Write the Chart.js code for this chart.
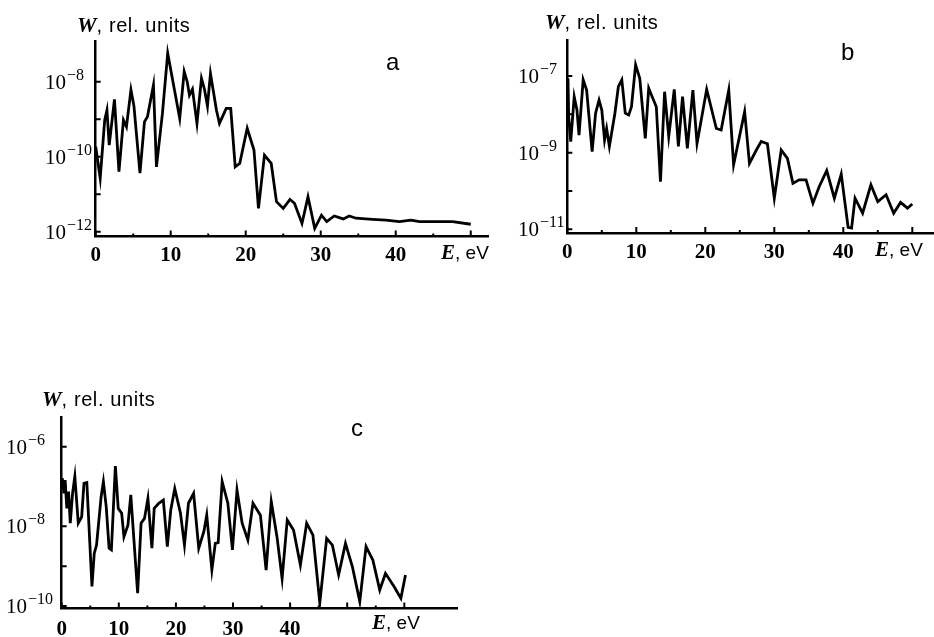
<!DOCTYPE html>
<html lang="en">
<head>
<meta charset="UTF-8">
<title>W, rel. units vs E, eV</title>
<script src="https://cdn.jsdelivr.net/npm/chart.js@4"></script>
<style>
  body { margin: 0; background: #fff; }
  #page { position: relative; width: 934px; height: 637px; overflow: hidden; background: #fff; }
  .panel { position: absolute; }
  .panel canvas { display: block; }
  .lbl {
    position: absolute;
    white-space: nowrap;
    line-height: 1;
    color: #000;
    font-family: "Liberation Sans", Arial, sans-serif;
    font-size: 19px;
  }
  .lbl i { font-family: "Liberation Serif", "Times New Roman", serif; font-weight: bold; font-size: 21px; }
  .ytitle { font-size: 20px; letter-spacing: 0.6px; }
  .ytitle i { font-size: 22px; letter-spacing: 0; }
  .letter { font-size: 24px; }
</style>
</head>
<body>
<div id="page">
  <div class="panel" style="left:0;top:0"><canvas id="chartA" width="495" height="270"></canvas></div>
  <div class="panel" style="left:480px;top:0"><canvas id="chartB" width="454" height="270"></canvas></div>
  <div class="panel" style="left:0;top:380px"><canvas id="chartC" width="470" height="257"></canvas></div>

  <div class="lbl ytitle" style="left:77px;top:14px"><i>W</i>, rel. units</div>
  <div class="lbl" style="left:441px;top:242px"><i>E</i>, eV</div>
  <div class="lbl letter" style="left:386px;top:50px">a</div>

  <div class="lbl ytitle" style="left:545px;top:11px"><i>W</i>, rel. units</div>
  <div class="lbl" style="left:875px;top:239px"><i>E</i>, eV</div>
  <div class="lbl letter" style="left:841px;top:40px">b</div>

  <div class="lbl ytitle" style="left:42px;top:388px"><i>W</i>, rel. units</div>
  <div class="lbl" style="left:372px;top:612px"><i>E</i>, eV</div>
  <div class="lbl letter" style="left:351px;top:416px">c</div>
</div>

<script>
// panel a
const energyA = [0, 0.6, 1.2, 1.5, 1.8, 2.5, 3.1, 3.7, 4.1, 4.7, 5.1, 5.9, 6.5, 6.9, 7.7,
  8.1, 8.9, 9.6, 11.2, 11.8, 12.2, 12.5, 12.9, 13.5, 14.1, 14.5, 14.9, 15.3, 16.1, 16.5,
  17.4, 18.0, 18.6, 19.2, 20.2, 21.1, 21.7, 22.5, 23.4, 24.1, 25.0, 25.9, 26.5, 27.5, 28.3,
  29.2, 30.1, 30.8, 31.8, 33.0, 33.8, 34.7, 36.9, 38.7, 40.5, 42.0, 43.2, 47.6, 50.0];
const wA = [1.86e-10, 2.63e-11, 9.55e-10, 1.74e-9, 2.04e-10, 3.39e-9, 3.98e-11, 9.55e-10, 6.31e-10, 6.03e-9,
  2.24e-9, 3.63e-11, 8.51e-10, 1.17e-9, 8.13e-9, 5.37e-11, 1.45e-9, 5.75e-8, 1.05e-9, 1.86e-8,
  1.0e-8, 4.37e-9, 6.31e-9, 7.76e-10, 1.23e-8, 6.31e-9, 2.24e-9, 1.66e-8, 1.74e-9, 7.76e-10,
  1.95e-9, 1.95e-9, 5.37e-11, 6.61e-11, 5.75e-10, 1.51e-10, 4.17e-12, 1.10e-10, 6.61e-11, 6.31e-12,
  4.17e-12, 7.24e-12, 5.75e-12, 1.66e-12, 8.51e-12, 1.23e-12, 2.75e-12, 1.86e-12, 2.63e-12, 2.19e-12,
  2.63e-12, 2.29e-12, 2.14e-12, 2.04e-12, 1.86e-12, 2.04e-12, 1.86e-12, 1.86e-12, 1.58e-12];

// panel b
const energyB = [0.1, 0.2, 0.5, 1.0, 1.4, 1.7, 2.3, 2.8, 3.6, 4.1, 4.6, 5.0, 5.4, 5.7, 6.1,
  6.9, 7.4, 7.9, 8.4, 8.9, 9.3, 9.9, 10.5, 11.3, 11.8, 12.3, 12.9, 13.5, 14.1, 14.7,
  15.5, 16.1, 16.7, 17.4, 18.2, 18.8, 20.2, 21.6, 22.3, 23.4, 24.1, 25.7, 26.4, 27.4, 28.1,
  29.0, 30.0, 31.0, 31.9, 32.7, 33.6, 34.6, 35.6, 36.5, 37.6, 38.7, 39.7, 40.7, 41.2, 41.7,
  42.8, 44.0, 45.0, 46.2, 47.3, 48.3, 49.3, 50.0];
const wB = [8.71e-8, 8.71e-9, 1.95e-9, 2.88e-8, 1.29e-8, 2.88e-9, 7.94e-8, 4.27e-8, 1.07e-9, 1.07e-8,
  2.34e-8, 1.29e-8, 2.14e-9, 4.27e-9, 1.45e-9, 1.07e-8, 5.25e-8, 7.94e-8, 1.07e-8, 9.55e-9,
  1.58e-8, 1.95e-7, 8.71e-8, 2.34e-9, 4.79e-8, 2.88e-8, 1.58e-8, 1.74e-10, 3.89e-8, 2.63e-9,
  4.47e-8, 1.45e-9, 2.88e-8, 1.29e-9, 4.27e-8, 1.74e-9, 4.47e-8, 4.27e-9, 3.89e-9, 4.27e-8,
  4.79e-10, 1.17e-8, 5.25e-10, 1.17e-9, 1.95e-9, 1.70e-9, 6.46e-11, 1.17e-9, 7.08e-10, 1.58e-10,
  1.95e-10, 1.95e-10, 4.79e-11, 1.29e-10, 3.39e-10, 6.46e-11, 2.75e-10, 1.12e-11, 1.07e-11, 6.46e-11,
  2.63e-11, 1.45e-10, 5.25e-11, 7.94e-11, 2.63e-11, 5.01e-11, 3.55e-11, 4.57e-11];

// panel c
const energyC = [0.1, 0.4, 0.6, 0.9, 1.2, 1.5, 1.9, 2.3, 2.9, 3.5, 3.9, 4.4, 5.3, 5.7, 6.1,
  6.9, 7.3, 7.8, 8.3, 8.7, 9.4, 9.9, 10.5, 10.9, 11.6, 12.1, 13.3, 13.9, 14.5, 15.1,
  15.8, 16.2, 17.0, 17.8, 18.5, 19.1, 19.8, 20.8, 21.5, 22.2, 23.1, 24.0, 24.9, 25.4, 26.3,
  26.9, 27.4, 28.1, 29.1, 29.9, 30.7, 31.6, 32.6, 33.5, 34.8, 35.8, 36.7, 37.7, 38.6, 39.5,
  40.6, 41.8, 42.9, 44.0, 45.2, 46.4, 47.4, 48.5, 49.7, 50.9, 52.2, 53.3, 54.5, 55.7, 56.7,
  58.2, 59.4, 60.2];
const wC = [1.62e-7, 6.76e-8, 1.45e-7, 2.82e-8, 7.41e-8, 1.20e-8, 6.76e-8, 1.78e-7, 1.20e-8, 1.74e-8,
  1.20e-7, 1.26e-7, 3.09e-10, 2.09e-9, 3.39e-9, 5.50e-8, 1.32e-7, 3.09e-8, 2.82e-9, 2.57e-9,
  3.24e-7, 2.82e-8, 2.14e-8, 5.50e-9, 1.07e-8, 6.17e-8, 2.09e-10, 1.20e-8, 1.58e-8, 5.01e-8,
  2.82e-9, 2.82e-8, 3.80e-8, 4.57e-8, 3.09e-9, 2.57e-8, 8.91e-8, 2.14e-8, 3.39e-9, 3.80e-8,
  6.76e-8, 2.82e-9, 7.41e-9, 1.91e-8, 7.94e-10, 3.72e-9, 3.89e-9, 1.32e-7, 3.80e-8, 2.57e-9,
  8.13e-8, 1.20e-8, 4.57e-9, 3.80e-8, 1.91e-8, 7.94e-10, 4.17e-8, 5.50e-9, 4.90e-10, 1.45e-8,
  8.13e-9, 1.07e-9, 1.20e-8, 6.03e-9, 1.20e-10, 5.01e-9, 3.39e-9, 6.03e-10, 3.72e-9, 9.77e-10,
  1.29e-10, 3.09e-9, 1.41e-9, 2.51e-10, 6.61e-10, 3.09e-10, 1.55e-10, 6.03e-10];

// ticks: decade exponents, labelled exponents, x ticks, labelled x values
const yTicksA = [-12, -11, -10, -9, -8];
const yLabelsA = [-12, -10, -8];
const yTicksB = [-11, -10, -9, -8, -7];
const yLabelsB = [-11, -9, -7];
const yTicksC = [-10, -9, -8, -7, -6];
const yLabelsC = [-10, -8, -6];
const xTicksAB = [0, 5, 10, 15, 20, 25, 30, 35, 40, 45, 50];
const xTicksC = [0, 5, 10, 15, 20, 25, 30, 35, 40, 45, 50, 55, 60];
const xLabels = [0, 10, 20, 30, 40];

// inward ticks and 10^n labels, placed through the chart's own scales
const logAxes = {
	id: "logAxes",
	afterDraw(chart, args, opts) {
		const { ctx, chartArea } = chart;
		const xs = chart.scales.x;
		const ys = chart.scales.y;
		ctx.save();
		ctx.strokeStyle = "#000";
		ctx.fillStyle = "#000";
		ctx.lineWidth = 2;
		ctx.beginPath();
		opts.yTicks.forEach((p) => {
			const y = ys.getPixelForValue(Math.pow(10, p));
			ctx.moveTo(chartArea.left, y);
			ctx.lineTo(chartArea.left + 5, y);
		});
		opts.xTicks.forEach((v) => {
			const x = xs.getPixelForValue(v);
			const len = v % 10 === 0 ? 6 : 3;
			ctx.moveTo(x, chartArea.bottom);
			ctx.lineTo(x, chartArea.bottom - len);
		});
		ctx.stroke();

		ctx.textBaseline = "alphabetic";
		ctx.textAlign = "left";
		opts.yLabels.forEach((p) => {
			const y = ys.getPixelForValue(Math.pow(10, p));
			ctx.font = '21px "Liberation Serif", serif';
			ctx.fillText("10", opts.labelLeft, y + 7);
			const w = ctx.measureText("10").width;
			ctx.font = '16px "Liberation Serif", serif';
			ctx.fillText("\u2212" + Math.abs(p), opts.labelLeft + w + 1, y - 2);
		});

		ctx.textAlign = "center";
		ctx.font = 'bold 21px "Liberation Serif", serif';
		opts.xLabels.forEach((v) => {
			const x = xs.getPixelForValue(v);
			ctx.fillText(String(v), x, chartArea.bottom + opts.xLabelDy);
		});
		ctx.restore();
	},
};

function makeChart(id, energy, w, cfg) {
	const axisBorder = { display: true, color: "#000", width: 2.5 };
	const noGrid = { display: true, drawOnChartArea: false, drawTicks: false };
	return new Chart(document.getElementById(id), {
		type: "line",
		data: {
			datasets: [{
				data: energy.map((e, i) => ({ x: e, y: w[i] })),
				borderColor: "#000",
				borderWidth: 2.8,
				pointRadius: 0,
				tension: 0,
				fill: false,
			}],
		},
		options: {
			responsive: false,
			animation: false,
			events: [],
			layout: { padding: cfg.padding },
			plugins: {
				legend: { display: false },
				tooltip: { enabled: false },
				logAxes: cfg.axes,
			},
			scales: {
				x: {
					type: "linear",
					min: 0,
					max: cfg.xMax,
					ticks: { display: false },
					grid: noGrid,
					border: axisBorder,
					afterFit: (s) => { s.height = 0; },
				},
				y: {
					type: "logarithmic",
					min: Math.pow(10, cfg.yMinExp),
					max: Math.pow(10, cfg.yMaxExp),
					ticks: { display: false },
					grid: noGrid,
					border: axisBorder,
					afterFit: (s) => { s.width = 0; },
				},
			},
		},
		plugins: [logAxes],
	});
}

makeChart("chartA", energyA, wA, {
	padding: { left: 95.7, top: 41.7, right: 7, bottom: 33.5 },
	xMax: 52.3,
	yMinExp: -12.128,
	yMaxExp: -6.933,
	axes: { yTicks: yTicksA, yLabels: yLabelsA, xTicks: xTicksAB, xLabels: xLabels, labelLeft: 45, xLabelDy: 24 },
});

makeChart("chartB", energyB, wB, {
	padding: { left: 87.3, top: 40, right: 1, bottom: 37 },
	xMax: 53.0,
	yMinExp: -11.097,
	yMaxExp: -6.061,
	axes: { yTicks: yTicksB, yLabels: yLabelsB, xTicks: xTicksAB, xLabels: xLabels, labelLeft: 38, xLabelDy: 25 },
});

makeChart("chartC", energyC, wC, {
	padding: { left: 61.7, top: 37.3, right: 12.7, bottom: 28.5 },
	xMax: 69.28,
	yMinExp: -10.063,
	yMaxExp: -5.262,
	axes: { yTicks: yTicksC, yLabels: yLabelsC, xTicks: xTicksC, xLabels: xLabels, labelLeft: 6, xLabelDy: 26 },
});
</script>
</body>
</html>
